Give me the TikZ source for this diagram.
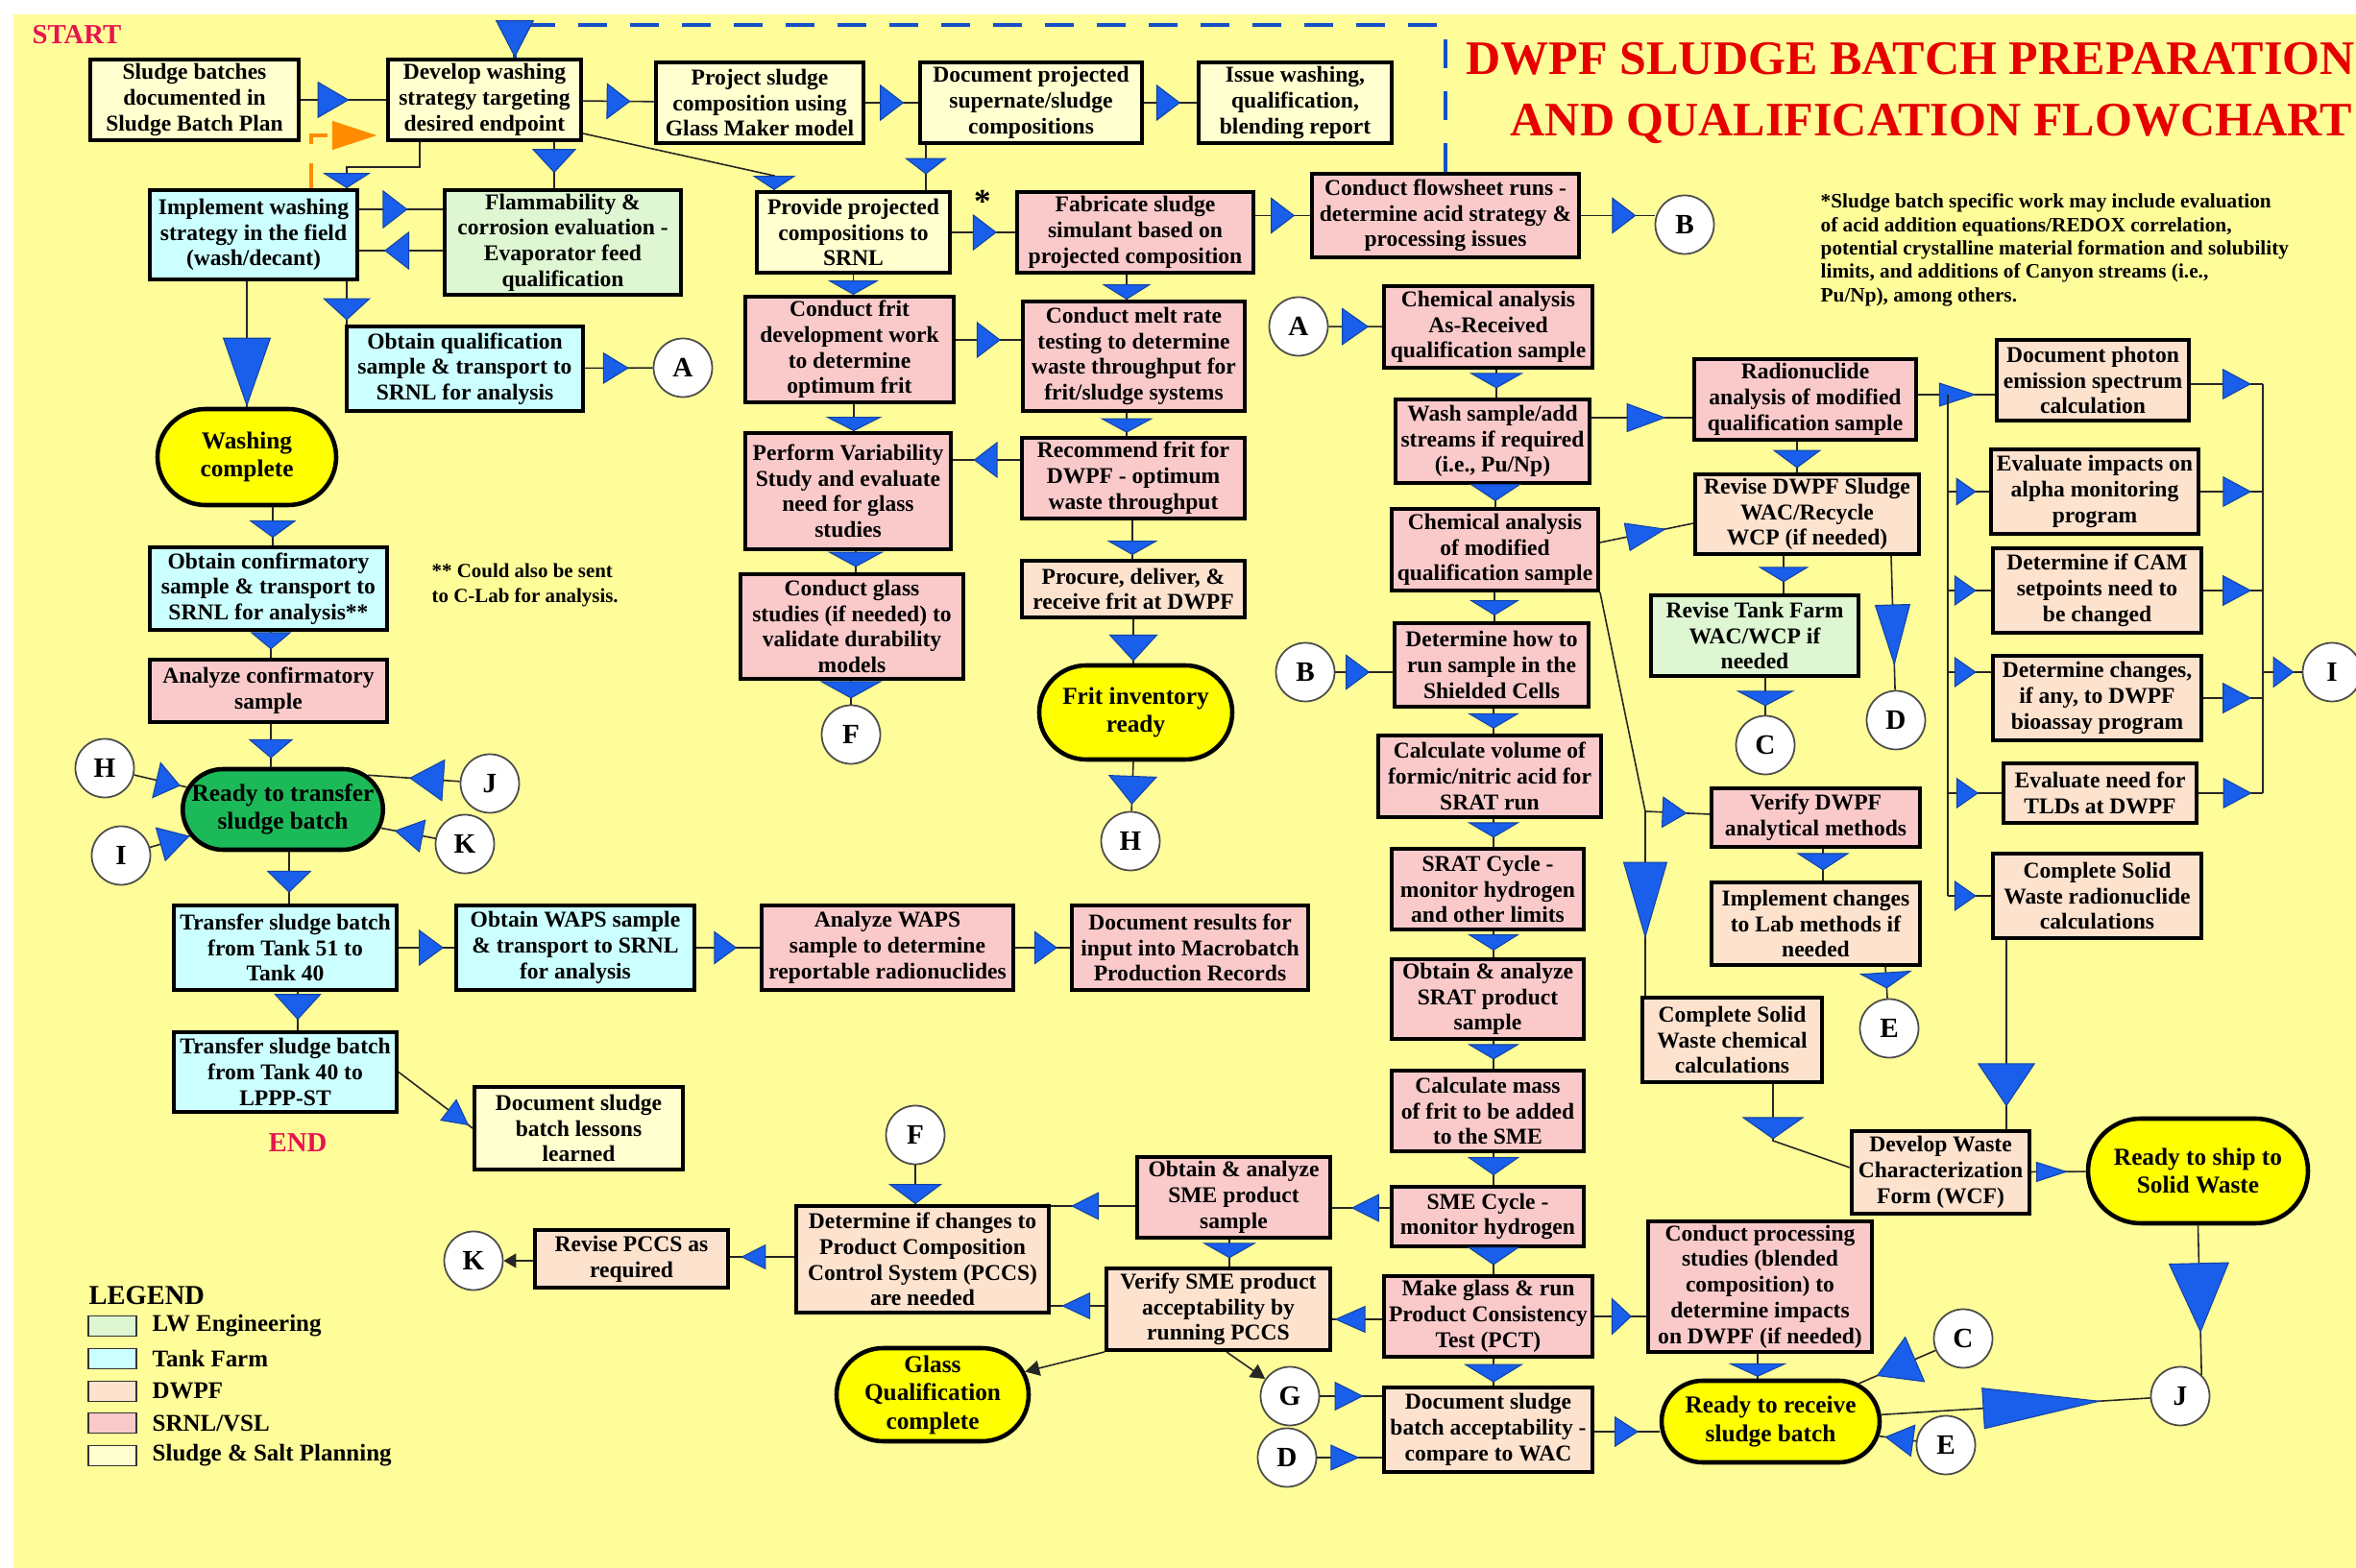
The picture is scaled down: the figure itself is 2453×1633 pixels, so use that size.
\documentclass[tikz,border=0pt]{standalone}
\usepackage{fontspec}
\setmainfont{Liberation Serif}
\usetikzlibrary{arrows.meta,decorations.markings,shapes.misc}

\definecolor{bg}{RGB}{255,253,153}
\definecolor{plan}{RGB}{255,255,208}
\definecolor{tank}{RGB}{204,255,255}
\definecolor{lweng}{RGB}{222,246,210}
\definecolor{dwpf}{RGB}{253,226,206}
\definecolor{srnl}{RGB}{250,202,202}
\definecolor{pillyel}{RGB}{255,255,0}
\definecolor{pillgrn}{RGB}{28,185,88}
\definecolor{triblue}{RGB}{25,95,235}
\definecolor{dashblue}{RGB}{20,80,200}
\definecolor{orng}{RGB}{255,140,0}
\definecolor{crimson}{RGB}{230,20,80}
\definecolor{titlered}{RGB}{230,0,0}

\tikzset{
  box/.style={draw, line width=1.1pt, align=center, inner sep=0pt,
    font=\fontsize{6.7}{7.6}\selectfont\bfseries},
  pill/.style={rounded rectangle, draw, line width=1.3pt, align=center, inner sep=0pt,
    font=\fontsize{7.2}{8.4}\selectfont\bfseries},
  conn/.style={circle, draw=black!70, line width=0.5pt, fill=white, minimum size=6.1mm,
    inner sep=0pt, font=\fontsize{8.3}{10}\selectfont\bfseries},
  wh/.style 2 args={minimum width=#1mm, minimum height=#2mm},
  link/.style={draw=black!85, line width=0.45pt},
  tri/.style n args={3}{decoration={markings, mark=at position #1 with
    {\arrow{Triangle[length=#2mm, width=#3mm, fill=triblue, color=triblue!70!black, line width=0.3pt]}}},
    postaction={decorate}},
  rt/.style={tri={#1}{2.5}{3.8}},
  dn/.style={tri={#1}{1.7}{5.4}},
  swatch/.style={draw=black!80, line width=0.4pt, minimum width=5mm, minimum height=2.1mm, inner sep=0pt},
  legtxt/.style={anchor=west, inner sep=0pt, font=\fontsize{7.1}{8}\selectfont\bfseries},
}

\begin{document}
\begin{tikzpicture}[x=0.1mm, y=-0.1mm]

\useasboundingbox (0,0) rectangle (2453,1633);
\fill[bg] (14,15) rectangle (2453,1633);

% titles and notes
\node[font=\fontsize{8.2}{10}\selectfont\bfseries, text=crimson] (startlbl) at (80,36) {START};
\node[font=\fontsize{8.2}{10}\selectfont\bfseries, text=crimson] (endlbl) at (310,1190) {END};
\node[anchor=base west, inner sep=0pt, text=titlered, font=\fontsize{14.25}{17}\selectfont\bfseries] (ttl1) at (1526,78) {DWPF SLUDGE BATCH PREPARATION};
\node[anchor=base west, inner sep=0pt, text=titlered, font=\fontsize{14.25}{17}\selectfont\bfseries] (ttl2) at (1572,142) {AND QUALIFICATION FLOWCHART};
\node[anchor=north west, inner sep=0pt, align=left, font=\fontsize{6.05}{6.95}\selectfont\bfseries] (note1) at (1895,201)
  {*Sludge batch specific work may include evaluation\\of acid addition equations/REDOX correlation,\\potential crystalline material formation and solubility\\limits, and additions of Canyon streams (i.e.,\\Pu/Np), among others.};
\node[anchor=north west, inner sep=0pt, align=left, font=\fontsize{5.95}{7.4}\selectfont\bfseries] (note2) at (449,586)
  {** Could also be sent\\to C-Lab for analysis.};
\node[font=\fontsize{10}{10}\selectfont\bfseries] (star) at (1023,210) {*};

% washing / tank farm side
\node[box, fill=plan, wh={21.7}{8.4}] (sbp) at (202.5,104) {Sludge batches\\documented in\\Sludge Batch Plan};
\node[box, fill=plan, wh={20.1}{8.4}] (dev) at (504.5,104) {Develop washing\\strategy targeting\\desired endpoint};
\node[box, fill=plan, wh={21.6}{8.4}] (proj) at (791,107) {Project sludge\\composition using\\Glass Maker model};
\node[box, fill=plan, wh={23.1}{8.4}] (docp) at (1073.5,107) {Document projected\\supernate/sludge\\compositions};
\node[box, fill=plan, wh={20.1}{8.4}] (issue) at (1348.5,107) {Issue washing,\\qualification,\\blending report};
\node[box, fill=tank, wh={21.6}{9.3}] (impl) at (264,244.5) {Implement washing\\strategy in the field\\(wash/decant)};
\node[box, fill=lweng, wh={24.6}{10.9}] (flam) at (586,252.5) {Flammability \&\\corrosion evaluation -\\Evaporator feed\\qualification};
\node[box, fill=tank, wh={24.6}{8.8}] (oqs) at (484,384) {Obtain qualification\\sample \& transport to\\SRNL for analysis};
\node[pill, fill=pillyel, wh={18.6}{10.0}] (wash) at (257,476) {Washing\\complete};
\node[box, fill=tank, wh={24.7}{8.6}] (ocs) at (279.5,613) {Obtain confirmatory\\sample \& transport to\\SRNL for analysis**};
\node[box, fill=srnl, wh={24.7}{6.5}] (acs) at (279.5,719.5) {Analyze confirmatory\\sample};
\node[pill, fill=pillgrn, wh={20.1}{8.4}] (rts) at (294.5,843) {Ready to transfer\\sludge batch};
\node[box, fill=tank, wh={23.2}{8.8}] (t51) at (297,987) {Transfer sludge batch\\from Tank 51 to\\Tank 40};
\node[box, fill=tank, wh={24.8}{8.8}] (waps) at (599,987) {Obtain WAPS sample\\\& transport to SRNL\\for analysis};
\node[box, fill=srnl, wh={26.2}{8.8}] (awaps) at (924,987) {Analyze WAPS\\sample to determine\\reportable radionuclides};
\node[box, fill=srnl, wh={24.6}{8.8}] (mbr) at (1239,987) {Document results for\\input into Macrobatch\\Production Records};
\node[box, fill=tank, wh={23.2}{8.3}] (t40) at (297,1116.5) {Transfer sludge batch\\from Tank 40 to\\LPPP-ST};
\node[box, fill=plan, wh={21.7}{8.6}] (lsn) at (602.5,1175) {Document sludge\\batch lessons\\learned};

% frit side
\node[box, fill=plan, wh={20.1}{8.4}] (prov) at (888.5,242) {Provide projected\\compositions to\\SRNL};
\node[box, fill=srnl, wh={24.6}{8.4}] (fab) at (1182,242) {Fabricate sludge\\simulant based on\\projected composition};
\node[box, fill=srnl, wh={27.8}{8.7}] (flow) at (1505,224.5) {Conduct flowsheet runs -\\determine acid strategy \&\\processing issues};
\node[box, fill=srnl, wh={21.7}{11.0}] (frit) at (884.5,364) {Conduct frit\\development work\\to determine\\optimum frit};
\node[box, fill=srnl, wh={23.1}{11.4}] (melt) at (1180.5,371) {Conduct melt rate\\testing to determine\\waste throughput for\\frit/sludge systems};
\node[box, fill=srnl, wh={21.4}{12.1}] (var) at (883,511.5) {Perform Variability\\Study and evaluate\\need for glass\\studies};
\node[box, fill=srnl, wh={23.2}{8.4}] (rec) at (1180,498) {Recommend frit for\\DWPF - optimum\\waste throughput};
\node[box, fill=srnl, wh={23.2}{10.9}] (gls) at (887,652.5) {Conduct glass\\studies (if needed) to\\validate durability\\models};
\node[box, fill=dwpf, wh={23.2}{5.9}] (proc) at (1180,613.5) {Procure, deliver, \&\\receive frit at DWPF};
\node[pill, fill=pillyel, wh={20.1}{9.8}] (fir) at (1182.5,742) {Frit inventory\\ready};

% qualification sample side
\node[box, fill=srnl, wh={21.7}{8.5}] (car) at (1549.5,340.5) {Chemical analysis\\As-Received\\qualification sample};
\node[box, fill=srnl, wh={20.2}{8.7}] (wsh) at (1554,459.5) {Wash sample/add\\streams if required\\(i.e., Pu/Np)};
\node[box, fill=srnl, wh={21.5}{8.5}] (cmod) at (1556.5,572.5) {Chemical analysis\\of modified\\qualification sample};
\node[box, fill=srnl, wh={20.2}{8.7}] (how) at (1553,692.5) {Determine how to\\run sample in the\\Shielded Cells};
\node[box, fill=srnl, wh={23.2}{8.5}] (vol) at (1551,808.5) {Calculate volume of\\formic/nitric acid for\\SRAT run};
\node[box, fill=srnl, wh={20.0}{8.4}] (srat) at (1549,926) {SRAT Cycle -\\monitor hydrogen\\and other limits};
\node[box, fill=srnl, wh={20.0}{8.3}] (sratp) at (1549,1040.5) {Obtain \& analyze\\SRAT product\\sample};
\node[box, fill=srnl, wh={20.0}{8.4}] (mass) at (1549,1157) {Calculate mass\\of frit to be added\\to the SME};
\node[box, fill=srnl, wh={20.0}{6.2}] (sme) at (1549,1267) {SME Cycle -\\monitor hydrogen};
\node[box, fill=srnl, wh={21.7}{8.4}] (pcct) at (1549.5,1371) {Make glass \& run\\Product Consistency\\Test (PCT)};
\node[box, fill=dwpf, wh={21.7}{8.8}] (dsa) at (1549.5,1489) {Document sludge\\batch acceptability -\\compare to WAC};
\node[box, fill=srnl, wh={20.1}{8.4}] (smep) at (1284.5,1247) {Obtain \& analyze\\SME product\\sample};
\node[box, fill=dwpf, wh={23.3}{8.5}] (vsme) at (1268.5,1363.5) {Verify SME product\\acceptability by\\running PCCS};
\node[box, fill=dwpf, wh={26.3}{11.1}] (pccs) at (960.5,1311.5) {Determine if changes to\\Product Composition\\Control System (PCCS)\\are needed};
\node[box, fill=dwpf, wh={20.1}{6.0}] (rpccs) at (657.5,1311) {Revise PCCS as\\required};
\node[pill, fill=pillyel, wh={20.0}{9.7}] (gqc) at (971,1452.5) {Glass\\Qualification\\complete};
\node[pill, fill=pillyel, wh={22.7}{8.5}] (rtr) at (1843.5,1480.5) {Ready to receive\\sludge batch};
\node[box, fill=srnl, wh={23.3}{13.6}] (cps) at (1832.5,1340) {Conduct processing\\studies (blended\\composition) to\\determine impacts\\on DWPF (if needed)};
\node[box, fill=srnl, wh={23.1}{8.4}] (rad) at (1879.5,416) {Radionuclide\\analysis of modified\\qualification sample};
\node[box, fill=dwpf, wh={23.3}{8.3}] (rwac) at (1881.5,535.5) {Revise DWPF Sludge\\WAC/Recycle\\WCP (if needed)};
\node[box, fill=lweng, wh={21.6}{8.4}] (rtf) at (1827,662) {Revise Tank Farm\\WAC/WCP if\\needed};
\node[box, fill=srnl, wh={21.7}{6.1}] (vam) at (1890.5,851.5) {Verify DWPF\\analytical methods};
\node[box, fill=dwpf, wh={21.7}{8.6}] (ilm) at (1890.5,962) {Implement changes\\to Lab methods if\\needed};
\node[box, fill=dwpf, wh={18.7}{8.8}] (swc) at (1803.5,1083) {Complete Solid\\Waste chemical\\calculations};
\node[box, fill=dwpf, wh={20.0}{8.4}] (phot) at (2179,396) {Document photon\\emission spectrum\\calculation};
\node[box, fill=dwpf, wh={21.6}{8.8}] (alpha) at (2181,512) {Evaluate impacts on\\alpha monitoring\\program};
\node[box, fill=dwpf, wh={21.7}{8.8}] (cam) at (2183.5,615) {Determine if CAM\\setpoints need to\\be changed};
\node[box, fill=dwpf, wh={21.7}{8.8}] (bio) at (2183.5,727) {Determine changes,\\if any, to DWPF\\bioassay program};
\node[box, fill=dwpf, wh={20.1}{6.2}] (tld) at (2186.5,826) {Evaluate need for\\TLDs at DWPF};
\node[box, fill=dwpf, wh={21.7}{8.8}] (swr) at (2183.5,933) {Complete Solid\\Waste radionuclide\\calculations};
\node[box, fill=dwpf, wh={18.5}{8.6}] (wcf) at (2020.5,1221) {Develop Waste\\Characterization\\Form (WCF)};
\node[pill, fill=pillyel, wh={22.9}{10.9}] (rsw) at (2288.5,1219.5) {Ready to ship to\\Solid Waste};

% off-page connectors
\node[conn] (a1) at (711,383) {A};
\node[conn] (a2) at (1352,340) {A};
\node[conn] (b1) at (1754,234) {B};
\node[conn] (b2) at (1359,700) {B};
\node[conn] (c1) at (1838,776) {C};
\node[conn] (c2) at (2044,1394) {C};
\node[conn] (d1) at (1974,750) {D};
\node[conn] (d2) at (1340,1518) {D};
\node[conn] (e1) at (1967,1071) {E};
\node[conn] (e2) at (2026,1505) {E};
\node[conn] (f1) at (886,765) {F};
\node[conn] (f2) at (953,1182) {F};
\node[conn] (g1) at (1343,1454) {G};
\node[conn] (h1) at (109,800) {H};
\node[conn] (h2) at (1177,876) {H};
\node[conn] (i1) at (126,891) {I};
\node[conn] (i2) at (2428,700) {I};
\node[conn] (j1) at (510,816) {J};
\node[conn] (j2) at (2270,1454) {J};
\node[conn] (k1) at (484,879) {K};
\node[conn] (k2) at (493,1313) {K};

% legend
\node[anchor=west, inner sep=0pt, font=\fontsize{8.1}{9}\selectfont\bfseries] (leg) at (92,1349) {LEGEND};
\node[swatch, fill=lweng] (sw1) at (117,1381) {};
\node[legtxt] (lt1) at (158,1381) {LW Engineering};
\node[swatch, fill=tank] (sw2) at (117,1415) {};
\node[legtxt] (lt2) at (158,1415) {Tank Farm};
\node[swatch, fill=dwpf] (sw3) at (117,1449) {};
\node[legtxt] (lt3) at (158,1449) {DWPF};
\node[swatch, fill=srnl] (sw4) at (117,1482) {};
\node[legtxt] (lt4) at (158,1482) {SRNL/VSL};
\node[swatch, fill=plan] (sw5) at (117,1516) {};
\node[legtxt] (lt5) at (158,1516) {Sludge \& Salt Planning};

% bend points
\coordinate (fb) at (536,26);
\coordinate (ob) at (324,141);
\coordinate (bend1) at (361,174);
\coordinate (bend2) at (806,183);
\coordinate (bend3) at (1846,1188);
\coordinate (bend4) at (1713,845);
\coordinate (busl) at (2028,411);
\coordinate (busr) at (2356,400);

% feedback loops
\draw[dashblue, line width=0.9pt, dash pattern=on 3mm off 2.4mm, tri={1}{3.9}{4.0}] (flow.north) |- (fb) -- (fb |- dev.north);
\draw[orng, line width=1.4pt, dash pattern=on 2.6mm off 2mm, decoration={markings, mark=at position 0.93 with
  {\arrow{Triangle[length=4.7mm, width=2.9mm, fill=orng, color=orng]}}}, postaction={decorate}]
  (ob |- impl.north) -- (ob) -- (ob -| dev.west);

% top row
\draw[link, tri={0.57}{3.3}{3.8}] (sbp) -- (dev);
\draw[link, rt=0.67] (dev) -- (proj);
\draw[link, rt=0.73] (proj) -- (docp);
\draw[link, rt=0.69] (docp) -- (issue);
\draw[link, tri={0.67}{2.5}{4.6}] (dev.south -| 577,0) -- (flam.north -| 577,0);
\draw[link, tri={1}{1.6}{5.0}] (dev.south -| 437,0) |- (bend1) -- (bend1 |- impl.north);
\draw[link, tri={0.58}{2.6}{4.0}] (impl.east |- 0,218) -- (flam.west |- 0,218);
\draw[link, tri={0.70}{2.6}{4.0}] (flam.west |- 0,261) -- (impl.east |- 0,261);
\draw[link, tri={0.9}{2.3}{5.0}] (impl.south -| bend1) -- (oqs.north -| bend1);
\draw[link, tri={1}{7.2}{5.0}] (impl.south -| wash.north) -- (wash.north);
\draw[link, tri={0.65}{2.7}{3.3}] (oqs) -- (a1);

% tank farm column
\draw[link, tri={0.8}{1.8}{4.9}] (wash.south -| 284,0) -- (ocs.north -| 284,0);
\draw[link, tri={0.68}{1.8}{4.3}] (ocs.south -| 282,0) -- (acs.north -| 282,0);
\draw[link, tri={0.8}{2.0}{4.7}] (acs.south -| 282,0) -- (rts.north -| 282,0);
\draw[link, tri={0.88}{2.6}{3.9}] (h1) -- (rts);
\draw[link, tri={1}{3.2}{3.7}] (i1) -- (rts);
\draw[link, tri={0.55}{3.6}{4.4}] (j1) -- (rts.22);
\draw[link, tri={0.75}{3.0}{3.5}] (k1) -- (rts);
\draw[link, tri={0.79}{2.3}{4.7}] (rts.south -| 301,0) -- (t51.north -| 301,0);
\draw[link, tri={0.81}{2.6}{3.8}] (t51) -- (waps);
\draw[link, tri={0.64}{2.4}{3.5}] (waps) -- (awaps);
\draw[link, tri={0.77}{2.4}{3.5}] (awaps) -- (mbr);
\draw[link, tri={0.73}{2.7}{4.9}] (t51.south -| 310,0) -- (t40.north -| 310,0);
\draw[link, tri={0.95}{2.7}{2.8}] (t40.east) -- (lsn.west);

% frit development
\draw[link, tri={1}{1.5}{4.5}] (dev.east |- 0,139) -- (bend2) -- (bend2 |- prov.north);
\draw[link, tri={0.65}{1.7}{4.4}] (docp.south -| 964,0) -- (prov.north -| 964,0);
\draw[link, rt=0.71] (prov) -- (fab);
\draw[link, rt=0.72] (fab.east |- flow) -- (flow.west);
\draw[link, rt=0.75] (flow.east) -- (flow.east -| b1.west);
\draw[link, tri={1}{1.5}{5.3}] (prov.south) -- (prov.south |- frit.north);
\draw[link, tri={1}{1.6}{5.1}] (fab.south -| 1173,0) -- (melt.north -| 1173,0);
\draw[link, rt=0.69] (frit.east |- 0,354) -- (melt.west |- 0,354);
\draw[link, tri={1}{1.5}{5.9}] (frit.south -| 889,0) -- (var.north -| 889,0);
\draw[link, tri={0.86}{1.5}{5.5}] (melt.south -| 1173,0) -- (rec.north -| 1173,0);
\draw[link, rt=0.69] (rec.west |- 0,479) -- (var.east |- 0,479);
\draw[link, tri={0.75}{1.6}{5.9}] (var.south -| 891,0) -- (gls.north -| 891,0);
\draw[link, tri={0.75}{1.8}{6.5}] (gls.south -| 886,0) -- (f1);
\draw[link, tri={0.9}{1.5}{5.3}] (rec.south -| 1179,0) -- (proc.north -| 1179,0);
\draw[link, tri={0.96}{2.8}{5.1}] (proc.south -| 1180,0) -- (fir.north -| 1180,0);
\draw[link, tri={0.87}{3.0}{5.1}] (fir.south -| 1180,0) -- (h2);

% qualification sample
\draw[link, tri={0.75}{2.8}{3.9}] (a2) -- (car);
\draw[link, tri={0.67}{1.6}{5.6}] (car.south -| 1558,0) -- (wsh.north -| 1558,0);
\draw[link, tri={0.74}{4.1}{3.0}] (wsh.east |- 0,435) -- (rad.west |- 0,435);
\draw[link, tri={0.74}{1.8}{5.4}] (wsh.south -| 1557,0) -- (cmod.north -| 1557,0);
\draw[link, tri={0.71}{4.2}{3.0}] (cmod.east |- 0,565) -- (rwac.west |- 0,545);
\draw[link, tri={0.8}{1.6}{5.2}] (cmod.south -| 1556,0) -- (how.north -| 1556,0);
\draw[link, tri={0.6}{2.5}{3.7}] (b2) -- (how.west |- b2);
\draw[link, tri={0.8}{1.6}{5.4}] (how.south -| 1555,0) -- (vol.north -| 1555,0);
\draw[link, tri={0.67}{1.6}{5.4}] (vol.south -| 1555,0) -- (srat.north -| 1555,0);
\draw[link, tri={0.74}{1.7}{5.4}] (srat.south -| 1555,0) -- (sratp.north -| 1555,0);
\draw[link, tri={0.67}{1.6}{5.4}] (sratp.south -| 1555,0) -- (mass.north -| 1555,0);
\draw[link, tri={0.7}{1.9}{5.4}] (mass.south -| 1555,0) -- (sme.north -| 1555,0);
\draw[link, tri={0.67}{2.9}{2.9}] (sme.west |- 0,1258) -- (smep.east |- 0,1258);
\draw[link, tri={0.76}{2.9}{2.9}] (smep.west |- 0,1256) -- (pccs.east |- 0,1256);
\draw[link, tri={1}{2.1}{5.6}] (f2) -- (pccs.north -| f2);
\draw[link, tri={0.83}{2.6}{2.6}] (pccs.west |- 0,1309) -- (rpccs.east |- 0,1309);
\draw[link, -{Triangle[length=1.3mm, width=1.5mm]}] (rpccs.west |- 0,1313) -- (k2);
\draw[link, tri={0.65}{1.9}{5.5}] (sme.south -| 1555,0) -- (pcct.north -| 1555,0);
\draw[link, tri={0.69}{1.6}{5.6}] (smep.south -| 1280,0) -- (vsme.north -| 1280,0);
\draw[link, tri={0.95}{3.2}{2.8}] (pcct.west |- 0,1374) -- (vsme.east |- 0,1374);
\draw[link, tri={0.8}{3.0}{2.8}] (vsme.west |- 0,1360) -- (pccs.east |- 0,1360);
\draw[link, -{Triangle[length=1.5mm, width=1.6mm]}] (vsme.south west) -- (gqc);
\draw[link, -{Triangle[length=1.5mm, width=1.6mm]}] (vsme.south -| 1277,0) -- (g1);
\draw[link, tri={0.7}{3.0}{3.0}] (g1) -- (dsa.west |- g1);
\draw[link, tri={0.65}{3.0}{2.7}] (d2) -- (dsa.west |- d2);
\draw[link, tri={0.88}{1.9}{6.2}] (pcct.south -| 1555,0) -- (dsa.north -| 1555,0);
\draw[link, tri={0.72}{2.1}{3.9}] (pcct.east) -- (cps.west |- pcct.east);
\draw[link, tri={0.68}{2.5}{3.2}] (dsa.east |- 0,1491) -- (rtr.west |- 0,1491);
\draw[link, tri={0.93}{1.4}{6.1}] (cps.south -| 1830,0) -- (rtr.north -| 1830,0);
\draw[link, tri={0.82}{12.4}{4.3}] (rtr) -- (j2);
\draw[link, tri={0.77}{4.4}{5.2}] (c2) -- (rtr);
\draw[link, tri={0.85}{3.0}{3.4}] (e2) -- (rtr);

% waste acceptance
\draw[link, tri={0.86}{1.9}{5.1}] (rad.south -| 1871,0) -- (rwac.north -| 1871,0);
\draw[link, tri={0.7}{1.6}{5.3}] (rwac.south -| 1857,0) -- (rtf.north -| 1857,0);
\draw[link, tri={0.82}{6.4}{3.7}] (rwac.south -| 1969,0) -- (d1);
\draw[link, tri={0.76}{1.6}{6.1}] (rtf.south -| 1838,0) -- (c1);
\draw[link, tri={0.86}{8.0}{4.6}] (cmod.south east) -- (bend4) -- (bend4 |- swc.north);
\draw[link, tri={0.65}{2.6}{3.3}] (bend4) -- (vam.west |- 0,848);
\draw[link, tri={0.68}{1.8}{5.5}] (vam.south -| 1898,0) -- (ilm.north -| 1898,0);
\draw[link, tri={0.69}{1.7}{5.5}] (ilm.south -| 1963,0) -- (e1);
\draw[link, tri={0.40}{2.3}{6.5}] (swc.south -| bend3) -- (bend3) -- (wcf.west |- 0,1216);

% radiological evaluations
\draw[link, tri={0.76}{3.9}{2.5}] (rad.east |- 0,411) -- (phot.west |- 0,411);
\draw[link] (busl) -- (busl |- swr);
\draw[link, tri={0.69}{2.1}{2.9}] (busl |- alpha) -- (alpha.west);
\draw[link, tri={0.66}{2.3}{3.2}] (busl |- cam) -- (cam.west);
\draw[link, tri={0.66}{2.3}{3.2}] (busl |- 0,700) -- (bio.west |- 0,700);
\draw[link, tri={0.57}{2.3}{3.2}] (busl |- tld) -- (tld.west);
\draw[link, tri={0.66}{2.3}{3.2}] (busl |- swr) -- (swr.west);
\draw[link] (busr) -- (busr |- tld);
\draw[link, tri={0.84}{3.0}{3.2}] (phot.east |- busr) -- (busr);
\draw[link, tri={0.82}{3.0}{3.2}] (alpha.east) -- (alpha.east -| busr);
\draw[link, tri={0.81}{3.0}{3.2}] (cam.east) -- (cam.east -| busr);
\draw[link, tri={0.81}{3.0}{3.2}] (bio.east) -- (bio.east -| busr);
\draw[link, tri={0.83}{3.0}{3.2}] (tld.east) -- (tld.east -| busr);
\draw[link, tri={0.8}{2.2}{3.3}] (busr |- i2) -- (i2);
\draw[link, tri={0.88}{4.5}{6.0}] (swr.south -| 2089,0) -- (wcf.north -| 2089,0);
\draw[link, tri={0.67}{3.3}{2.1}] (wcf) -- (rsw);
\draw[link, tri={0.72}{7.3}{6.3}] (rsw.south) -- (j2.north east);

\end{tikzpicture}
\end{document}
